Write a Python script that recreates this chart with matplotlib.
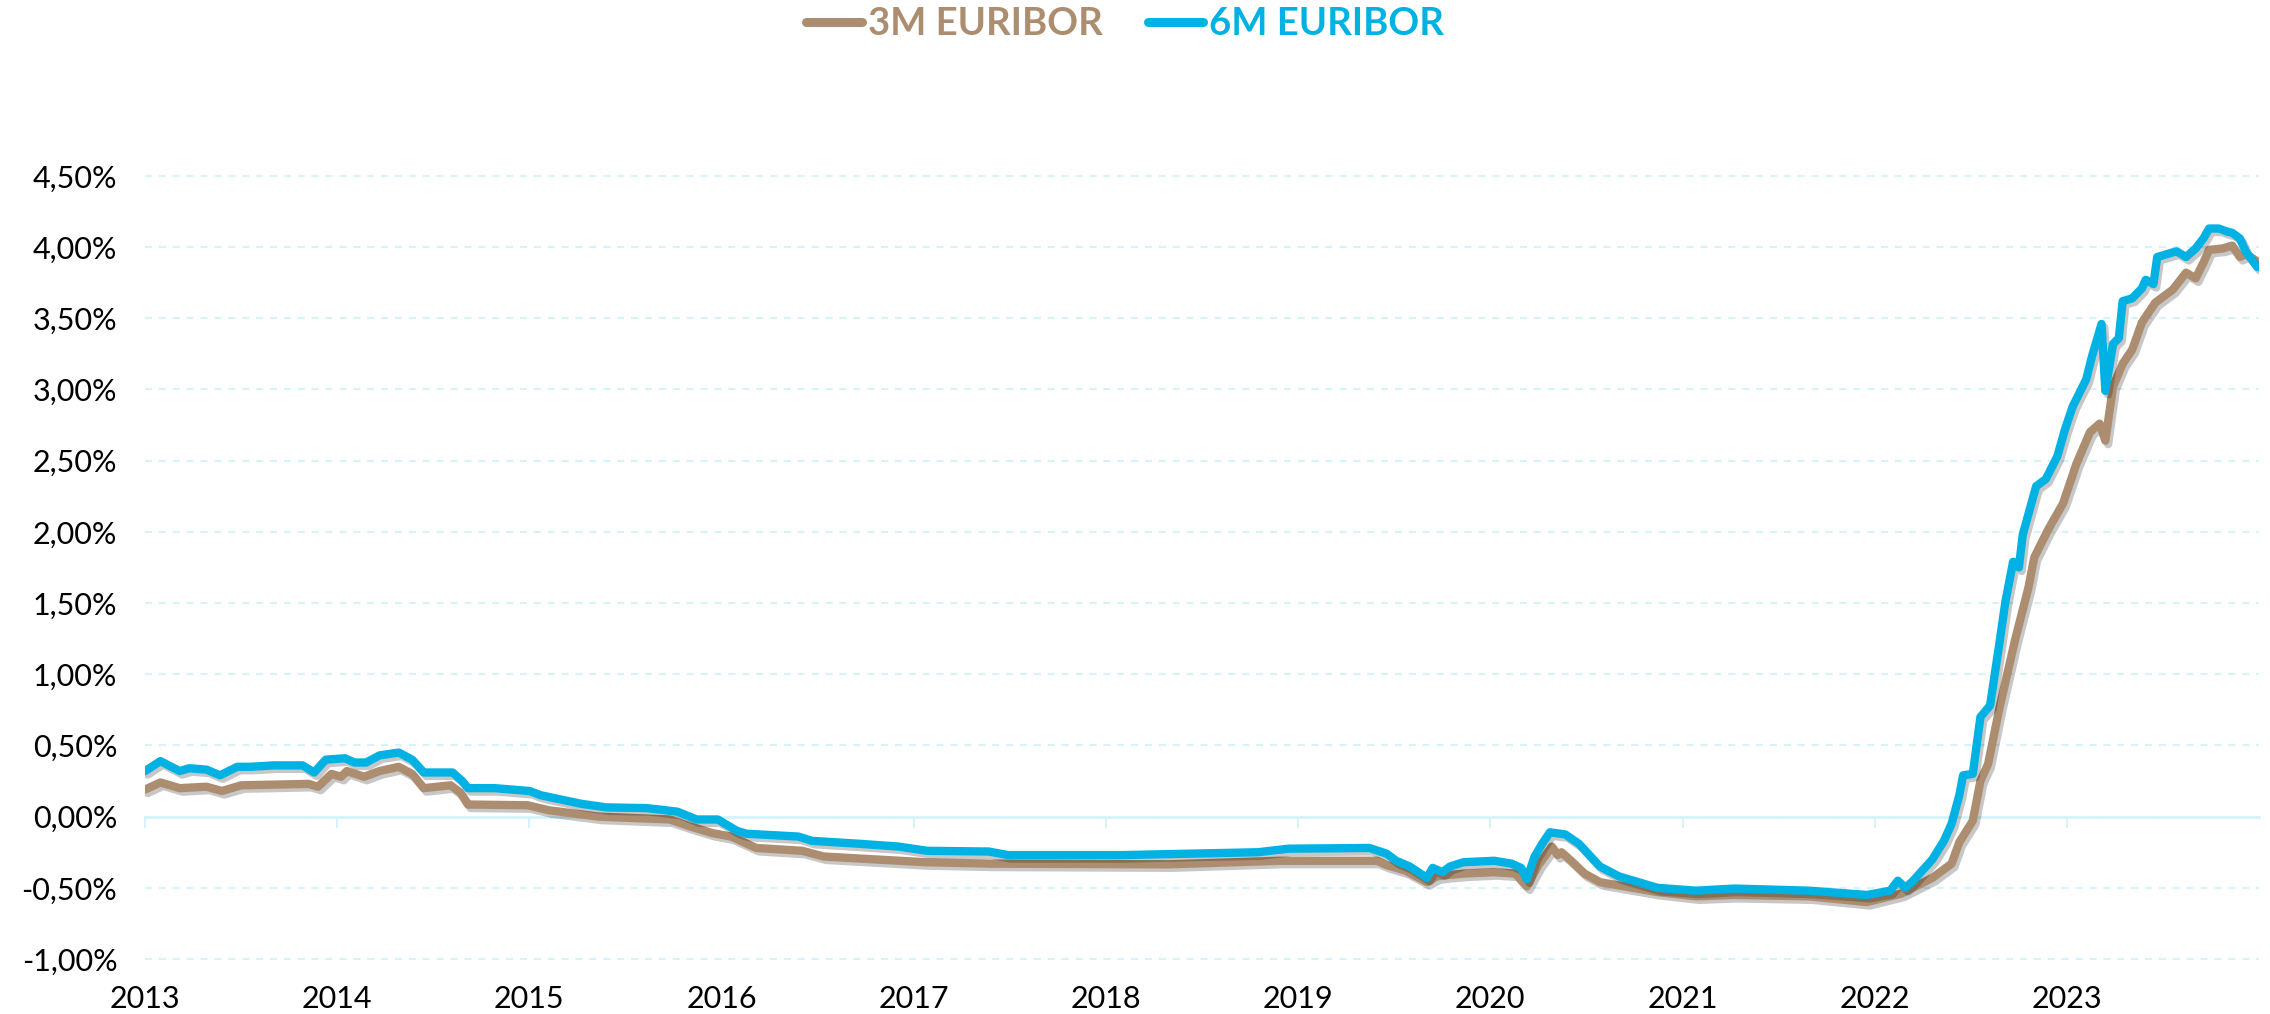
import matplotlib.pyplot as plt
import matplotlib.patheffects as pe

plt.rcParams['font.family'] = ['Lato', 'DejaVu Sans']
plt.rcParams['lines.scale_dashes'] = False

# 3M Euribor (decimal year, %)
years_3m = [2013.00, 2013.08, 2013.18, 2013.32, 2013.40, 2013.50, 2013.85, 2013.90, 2013.97, 2014.02,
            2014.05, 2014.14, 2014.22, 2014.32, 2014.39, 2014.45, 2014.59, 2014.64, 2014.68, 2014.99,
            2015.10, 2015.36, 2015.73, 2015.84, 2015.95, 2016.05, 2016.18, 2016.42, 2016.53, 2017.06,
            2017.40, 2018.33, 2018.90, 2019.41, 2019.46, 2019.56, 2019.67, 2019.72, 2019.78, 2019.86,
            2020.02, 2020.13, 2020.19, 2020.25, 2020.32, 2020.35, 2020.37, 2020.42, 2020.49, 2020.57,
            2020.87, 2021.07, 2021.27, 2021.66, 2021.96, 2022.14, 2022.30, 2022.40, 2022.44, 2022.51,
            2022.55, 2022.59, 2022.65, 2022.73, 2022.80, 2022.83, 2022.90, 2022.98, 2023.05, 2023.12,
            2023.17, 2023.20, 2023.24, 2023.29, 2023.34, 2023.39, 2023.46, 2023.55, 2023.62, 2023.67,
            2023.71, 2023.74, 2023.81, 2023.86, 2023.90, 2023.93, 2023.99]
rate_3m = [0.19, 0.24, 0.20, 0.21, 0.18, 0.22, 0.23, 0.21, 0.30, 0.28,
           0.32, 0.28, 0.32, 0.35, 0.30, 0.20, 0.22, 0.17, 0.085, 0.08,
           0.045, 0.00, -0.02, -0.07, -0.115, -0.14, -0.22, -0.24, -0.28, -0.32,
           -0.33, -0.335, -0.31, -0.31, -0.34, -0.38, -0.46, -0.42, -0.41, -0.40,
           -0.39, -0.40, -0.49, -0.34, -0.21, -0.27, -0.25, -0.31, -0.40, -0.46,
           -0.53, -0.56, -0.55, -0.56, -0.60, -0.54, -0.43, -0.33, -0.18, -0.03,
           0.25, 0.37, 0.77, 1.24, 1.61, 1.82, 2.01, 2.20, 2.48, 2.70,
           2.76, 2.64, 3.02, 3.18, 3.28, 3.47, 3.61, 3.70, 3.82, 3.78,
           3.89, 3.98, 3.99, 4.01, 3.93, 3.95, 3.90]

# 6M Euribor
years_6m = [2013.00, 2013.08, 2013.18, 2013.23, 2013.32, 2013.39, 2013.48, 2013.55, 2013.67, 2013.82,
            2013.88, 2013.94, 2014.04, 2014.09, 2014.15, 2014.22, 2014.32, 2014.39, 2014.45, 2014.60,
            2014.65, 2014.68, 2014.82, 2015.00, 2015.06, 2015.27, 2015.40, 2015.61, 2015.77, 2015.87,
            2015.98, 2016.08, 2016.13, 2016.40, 2016.47, 2016.71, 2016.92, 2017.07, 2017.39, 2017.49,
            2018.09, 2018.79, 2018.95, 2019.37, 2019.46, 2019.51, 2019.58, 2019.67, 2019.70, 2019.75,
            2019.79, 2019.86, 2020.02, 2020.11, 2020.16, 2020.19, 2020.23, 2020.27, 2020.31, 2020.39,
            2020.46, 2020.57, 2020.67, 2020.87, 2021.07, 2021.27, 2021.66, 2021.96, 2022.08, 2022.12,
            2022.16, 2022.20, 2022.30, 2022.36, 2022.40, 2022.44, 2022.46, 2022.51, 2022.55, 2022.60,
            2022.65, 2022.68, 2022.72, 2022.75, 2022.77, 2022.84, 2022.89, 2022.95, 2022.99, 2023.03,
            2023.10, 2023.13, 2023.18, 2023.20, 2023.24, 2023.27, 2023.29, 2023.34, 2023.39, 2023.41,
            2023.45, 2023.47, 2023.57, 2023.62, 2023.67, 2023.71, 2023.74, 2023.79, 2023.83, 2023.86,
            2023.90, 2023.93, 2023.99]
rate_6m = [0.32, 0.39, 0.32, 0.34, 0.33, 0.29, 0.35, 0.35, 0.36, 0.36,
           0.31, 0.40, 0.41, 0.38, 0.38, 0.43, 0.45, 0.40, 0.31, 0.31,
           0.25, 0.20, 0.20, 0.18, 0.15, 0.09, 0.065, 0.06, 0.035, -0.02,
           -0.02, -0.10, -0.12, -0.14, -0.17, -0.19, -0.21, -0.24, -0.245, -0.27,
           -0.27, -0.25, -0.225, -0.22, -0.26, -0.31, -0.35, -0.43, -0.36, -0.39,
           -0.35, -0.32, -0.31, -0.33, -0.36, -0.44, -0.28, -0.19, -0.11, -0.125,
           -0.19, -0.35, -0.42, -0.50, -0.52, -0.505, -0.52, -0.55, -0.52, -0.45,
           -0.50, -0.45, -0.30, -0.17, -0.05, 0.15, 0.29, 0.30, 0.70, 0.78,
           1.23, 1.51, 1.79, 1.75, 1.98, 2.32, 2.37, 2.53, 2.72, 2.88,
           3.07, 3.23, 3.46, 2.99, 3.32, 3.36, 3.62, 3.64, 3.71, 3.77,
           3.74, 3.93, 3.97, 3.93, 3.99, 4.06, 4.13, 4.13, 4.11, 4.10,
           4.06, 3.97, 3.86]

year_ticks = list(range(2013, 2024))
pct_ticks = [-1.0, -0.5, 0.0, 0.5, 1.0, 1.5, 2.0, 2.5, 3.0, 3.5, 4.0, 4.5]

brown = '#AD8D6F'
blue = '#00B2E3'
grid_col = '#D6F3FB'

fig = plt.figure(figsize=(22.7, 10.14), dpi=100)
ax = fig.add_axes([0.0639, 0.050, 0.9313, 0.7808])

shadow = [pe.SimpleLineShadow(offset=(2, -2.5), shadow_color='black', alpha=0.22), pe.Normal()]
ax.plot(years_3m, rate_3m, color=brown, lw=6, solid_joinstyle='round', solid_capstyle='round',
        label='3M EURIBOR', path_effects=shadow, zorder=3)
ax.plot(years_6m, rate_6m, color=blue, lw=6, solid_joinstyle='round', solid_capstyle='round',
        label='6M EURIBOR', path_effects=shadow, zorder=4)

ax.set_xlim(2013, 2024)
ax.set_ylim(-1.03, 4.53)

ax.set_yticks(pct_ticks)
ax.set_yticklabels([f'{v:.2f}%'.replace('.', ',') for v in pct_ticks])
ax.set_xticks(year_ticks)
ax.set_xticklabels([str(y) for y in year_ticks])

ax.yaxis.grid(True, color=grid_col, linestyle=(0, (5, 5)), linewidth=1.5)
ax.set_axisbelow(True)

for s in ['top', 'right', 'left']:
    ax.spines[s].set_visible(False)
ax.spines['bottom'].set_position(('data', 0))
ax.spines['bottom'].set_color(grid_col)
ax.spines['bottom'].set_linewidth(2)

ax.tick_params(axis='y', length=0, pad=20, labelsize=22, labelcolor='black')
ax.tick_params(axis='x', length=8, width=1.5, color=grid_col, direction='out', pad=113,
               labelsize=22, labelcolor='black')

leg = fig.legend(loc='center', bbox_to_anchor=(0.4957, 1 - 24 / 1014), ncol=2, frameon=False,
                 handlelength=1.45, handletextpad=0.15, columnspacing=1.2,
                 prop={'size': 27.5, 'weight': 'bold'})
for txt, col in zip(leg.get_texts(), [brown, blue]):
    txt.set_color(col)
for h in leg.legend_handles:
    h.set_linewidth(6.5)
    h.set_path_effects([])

fig.savefig('out.png', dpi=100)
